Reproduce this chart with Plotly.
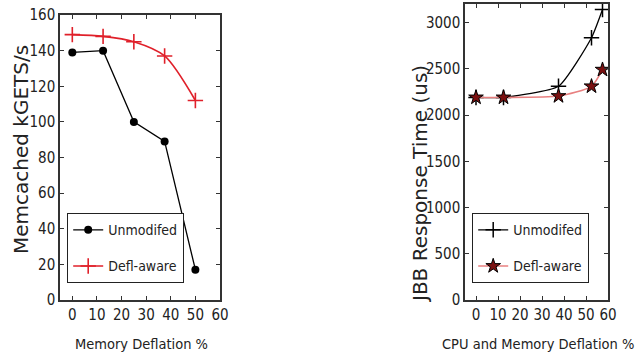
import plotly.graph_objects as go

# Left panel: Memcached
mem_x = [0, 12.5, 25, 37.5, 50]
mem_unmod = [139, 140, 100, 89, 17]
mem_defl = [149, 148, 145, 137, 112]

# Right panel: JBB
jbb_x = [0, 12.5, 37.5, 52.5, 57.5]
jbb_unmod = [2190, 2190, 2310, 2835, 3140]
jbb_defl = [2190, 2190, 2205, 2310, 2490]

series_names = ["Unmodifed", "Defl-aware"]

NARROW = "DejaVu Sans Condensed, Liberation Sans Narrow, sans-serif"
TICKF = dict(family=NARROW, size=15, color="#222")

fig = go.Figure()

fig.add_trace(go.Scatter(x=mem_x, y=mem_unmod, name=series_names[0], mode="lines+markers",
                         line=dict(color="black", width=1.3),
                         marker=dict(symbol="circle", size=8, color="black"),
                         xaxis="x", yaxis="y", legend="legend", legendgroup="a"))
fig.add_trace(go.Scatter(x=mem_x, y=mem_defl, name=series_names[1], mode="lines+markers",
                         line=dict(color="#e0202a", width=1.6, shape="spline", smoothing=0.8),
                         marker=dict(symbol="cross-thin", size=11, color="#e0202a",
                                     line=dict(color="#e0202a", width=1.6)),
                         xaxis="x", yaxis="y", legend="legend", legendgroup="b"))

fig.add_trace(go.Scatter(x=jbb_x, y=jbb_unmod, name=series_names[0], mode="lines+markers",
                         line=dict(color="black", width=1.3, shape="spline", smoothing=0.5),
                         marker=dict(symbol="cross-thin", size=11, color="black",
                                     line=dict(color="black", width=1.5)),
                         xaxis="x2", yaxis="y2", legend="legend2", legendgroup="c"))
fig.add_trace(go.Scatter(x=jbb_x, y=jbb_defl, name=series_names[1], mode="lines+markers",
                         line=dict(color="#e88080", width=1.6, shape="spline", smoothing=0.6),
                         marker=dict(symbol="star", size=11, color="#7a1010",
                                     line=dict(color="black", width=1)),
                         xaxis="x2", yaxis="y2", legend="legend2", legendgroup="d"))

axis_common = dict(showline=True, linecolor="#333", linewidth=1.5, mirror="ticks",
                   ticks="inside", ticklen=4, tickwidth=1.2, tickcolor="#333",
                   showgrid=False, zeroline=False, tickfont=TICKF, automargin=False)

W, H = 639, 362
legend_common = dict(xanchor="left", yanchor="top",
                     bordercolor="#222", borderwidth=1.2, bgcolor="white",
                     font=dict(family=NARROW, size=14, color="#222"),
                     tracegroupgap=15, itemwidth=30)
fig.update_layout(
    width=W, height=H,
    margin=dict(l=0, r=0, t=0, b=0, autoexpand=False),
    paper_bgcolor="white", plot_bgcolor="white",
    showlegend=True,
    xaxis=dict(domain=[60 / W, 220 / W], range=[-5, 60], tickvals=[0, 10, 20, 30, 40, 50, 60],
               anchor="y", **axis_common),
    yaxis=dict(domain=[1 - 300 / H, 1 - 15 / H], range=[0, 160], tickvals=list(range(0, 161, 20)),
               anchor="x", **axis_common),
    xaxis2=dict(domain=[465 / W, 608 / W], range=[-5, 60], tickvals=[0, 10, 20, 30, 40, 50, 60],
                anchor="y2", **axis_common),
    yaxis2=dict(domain=[1 - 300 / H, 1 - 4 / H], range=[0, 3200], tickvals=list(range(0, 3001, 500)),
                anchor="x2", **axis_common),
    legend=dict(x=67 / W, y=1 - 213 / H, **legend_common),
    legend2=dict(x=472 / W, y=1 - 213 / H, **legend_common),
    annotations=[
        dict(text="Memcached kGETS/s", x=21 / W, y=1 - 150 / H, xref="paper", yref="paper",
             xanchor="center", yanchor="middle",
             showarrow=False, textangle=-90, font=dict(family="DejaVu Sans, sans-serif", size=20, color="#222")),
        dict(text="Memory Deflation %", x=141 / W, y=1 - 344 / H, xref="paper", yref="paper",
             xanchor="center", yanchor="middle",
             showarrow=False, font=dict(family=NARROW, size=14.5, color="#222")),
        dict(text="JBB Response Time (us)", x=420 / W, y=1 - 184 / H, xref="paper", yref="paper",
             xanchor="center", yanchor="middle",
             showarrow=False, textangle=-90, font=dict(family="DejaVu Sans, sans-serif", size=20, color="#222")),
        dict(text="CPU and Memory Deflation %", x=538 / W, y=1 - 344 / H, xref="paper", yref="paper",
             xanchor="center", yanchor="middle",
             showarrow=False, font=dict(family=NARROW, size=14.5, color="#222")),
    ],
)

fig.write_html("out.html", config={"displayModeBar": False},
               post_script="document.body.style.margin='0';document.body.style.overflow='hidden';")
